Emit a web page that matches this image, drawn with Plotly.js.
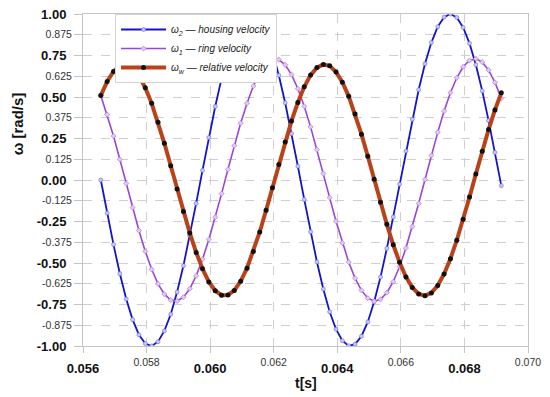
<!DOCTYPE html>
<html><head><meta charset="utf-8">
<script src="https://cdn.plot.ly/plotly-3.0.1.min.js"></script>
<style>html,body{margin:0;padding:0;background:#fff}#chart{width:550px;height:397px}</style>
</head><body><div id="chart"></div>
<script>
const t = [0.05656,0.05676,0.05696,0.05716,0.05736,0.05756,0.05776,0.05796,0.05816,0.05836,
0.05856,0.05876,0.05896,0.05916,0.05936,0.05956,0.05976,0.05996,0.06016,0.06036,
0.06056,0.06076,0.06096,0.06116,0.06136,0.06156,0.06176,0.06196,0.06216,0.06236,
0.06256,0.06276,0.06296,0.06316,0.06336,0.06356,0.06376,0.06396,0.06416,0.06436,
0.06456,0.06476,0.06496,0.06516,0.06536,0.06556,0.06576,0.06596,0.06616,0.06636,
0.06656,0.06676,0.06696,0.06716,0.06736,0.06756,0.06776,0.06796,0.06816,0.06836,
0.06856,0.06876,0.06896,0.06916];
const housing = [0.000,-0.199,-0.389,-0.565,-0.717,-0.841,-0.932,-0.985,-1.000,-0.974,
-0.909,-0.809,-0.675,-0.516,-0.335,-0.141,0.058,0.256,0.443,0.612,
0.757,0.872,0.952,0.994,0.996,0.959,0.883,0.773,0.631,0.465,
0.279,0.083,-0.117,-0.312,-0.494,-0.657,-0.794,-0.899,-0.968,-0.999,
-0.989,-0.941,-0.855,-0.734,-0.585,-0.412,-0.223,-0.025,0.174,0.366,
0.544,0.700,0.828,0.923,0.981,1.000,0.979,0.919,0.823,0.694,
0.537,0.358,0.166,-0.034];
const ring = [0.509,0.394,0.265,0.124,-0.021,-0.166,-0.304,-0.430,-0.538,-0.626,
-0.688,-0.723,-0.729,-0.706,-0.655,-0.577,-0.477,-0.358,-0.224,-0.082,
0.064,0.207,0.342,0.463,0.566,0.646,0.701,0.727,0.725,0.694,
0.635,0.550,0.444,0.320,0.183,0.039,-0.106,-0.248,-0.379,-0.495,
-0.592,-0.665,-0.712,-0.730,-0.719,-0.679,-0.613,-0.521,-0.410,-0.281,
-0.142,0.003,0.148,0.287,0.415,0.526,0.616,0.682,0.720,0.730,
0.710,0.662,0.588,0.491];
const relative = [0.509,0.593,0.654,0.689,0.696,0.675,0.628,0.555,0.462,0.348,
0.221,0.086,-0.054,-0.190,-0.320,-0.436,-0.535,-0.614,-0.667,-0.694,
-0.693,-0.665,-0.610,-0.531,-0.430,-0.313,-0.182,-0.046,0.094,0.229,
0.356,0.467,0.561,0.632,0.677,0.696,0.688,0.651,0.589,0.504,
0.397,0.276,0.143,0.004,-0.134,-0.267,-0.390,-0.496,-0.584,-0.647,
-0.686,-0.697,-0.680,-0.636,-0.566,-0.474,-0.363,-0.237,-0.103,0.036,
0.173,0.304,0.422,0.525];
const seriesNames = ['ω<sub>2</sub> — housing velocity','ω<sub>1</sub> — ring velocity','ω<sub>w</sub> — relative velocity'];
const xMajorVals = [0.056,0.060,0.064,0.068];
const xMajorText = ['0.056','0.060','0.064','0.068'];
const xMinorVals = [0.058,0.062,0.066,0.070];
const xMinorText = ['0.058','0.062','0.066','0.070'];
const yMajorVals = [-1,-0.75,-0.5,-0.25,0,0.25,0.5,0.75,1];
const yMajorText = ['-1.00','-0.75','-0.50','-0.25','0.00','0.25','0.50','0.75','1.00'];
const yMinorVals = [-0.875,-0.625,-0.375,-0.125,0.125,0.375,0.625,0.875];
const yMinorText = ['-0.875','-0.625','-0.375','-0.125','0.125','0.375','0.625','0.875'];
const xTitle = 't[s]';
const yTitle = 'ω [rad/s]';

const FONT = 'Arial, "Liberation Sans", sans-serif';
const GRID = '#cfcfcf';
const LINE = '#c4c4c4';

const traces = [
  {x: t, y: housing, name: seriesNames[0], type: 'scatter', mode: 'lines+markers',
   line: {color: '#1414c8', width: 1.8},
   marker: {symbol: 'circle', size: 4, color: '#c8c8f0', line: {color: '#6a6ad8', width: 0.6}},
   legendrank: 1},
  {x: t, y: ring, name: seriesNames[1], type: 'scatter', mode: 'lines+markers',
   line: {color: '#9a46d4', width: 1.6},
   marker: {symbol: 'diamond', size: 4, color: '#e0c8f0', line: {color: '#a870d8', width: 0.6}},
   legendrank: 2},
  {x: t, y: relative, name: seriesNames[2], type: 'scatter', mode: 'lines+markers',
   line: {color: '#b8431a', width: 4},
   marker: {symbol: 'circle', size: 5, color: '#111111'},
   legendrank: 3},
  // carrier for the overlaid secondary axes (minor tick labels); draws nothing visible
  {x: t.slice(0, 1), y: housing.slice(0, 1), xaxis: 'x2', yaxis: 'y2', type: 'scatter', mode: 'markers',
   marker: {opacity: 0, size: 1}, showlegend: false, hoverinfo: 'skip'}
];

const baseX = {range: [0.056, 0.070], tickmode: 'array', showgrid: true, gridcolor: GRID, griddash: 'dash',
  gridwidth: 1, zeroline: false, ticks: 'outside', ticklen: 6, tickcolor: LINE, fixedrange: true};
const baseY = {range: [-1, 1], tickmode: 'array', showgrid: true, gridcolor: GRID, griddash: 'dash',
  gridwidth: 1, zeroline: false, ticks: 'outside', ticklen: 8, tickcolor: LINE, fixedrange: true};

const layout = {
  width: 550, height: 397,
  margin: {l: 83, r: 22, t: 14, b: 51},
  paper_bgcolor: '#ffffff', plot_bgcolor: '#ffffff',
  font: {family: FONT, color: '#111'},
  showlegend: true,
  legend: {x: 0.072, y: 1, xanchor: 'left', yanchor: 'top', bgcolor: '#ffffff',
    bordercolor: '#d4d4d4', borderwidth: 1, itemwidth: 45,
    font: {family: FONT, size: 10, color: '#222', style: 'italic'}},
  xaxis: Object.assign({}, baseX, {tickvals: xMajorVals, ticktext: xMajorText,
    tickfont: {family: FONT, size: 13, weight: 'bold', color: '#111'}, ticklabelstandoff: 4,
    showline: true, linecolor: LINE, mirror: true}),
  xaxis2: Object.assign({}, baseX, {overlaying: 'x', anchor: 'y', side: 'bottom',
    tickvals: xMinorVals, ticktext: xMinorText,
    tickfont: {family: FONT, size: 10.5, color: '#333'}, showline: false}),
  yaxis: Object.assign({}, baseY, {tickvals: yMajorVals, ticktext: yMajorText,
    tickfont: {family: FONT, size: 13, weight: 'bold', color: '#111'}, ticklabelstandoff: 5,
    showline: true, linecolor: LINE, mirror: true}),
  yaxis2: Object.assign({}, baseY, {overlaying: 'y', anchor: 'x', side: 'left',
    tickvals: yMinorVals, ticktext: yMinorText,
    tickfont: {family: FONT, size: 10.5, color: '#333'}, showline: false}),
  annotations: [
    {text: xTitle, xref: 'paper', yref: 'paper', x: 0.5, y: -0.111, xanchor: 'center', yanchor: 'middle',
     showarrow: false, font: {family: FONT, size: 14, weight: 'bold', color: '#111'}},
    {text: yTitle, xref: 'paper', yref: 'paper', x: -0.148, y: 0.668, xanchor: 'center', yanchor: 'middle',
     textangle: -90, showarrow: false, font: {family: FONT, size: 15, weight: 'bold', color: '#111'}}
  ]
};

Plotly.newPlot('chart', traces, layout, {staticPlot: true, displayModeBar: false});
</script>
</body></html>
